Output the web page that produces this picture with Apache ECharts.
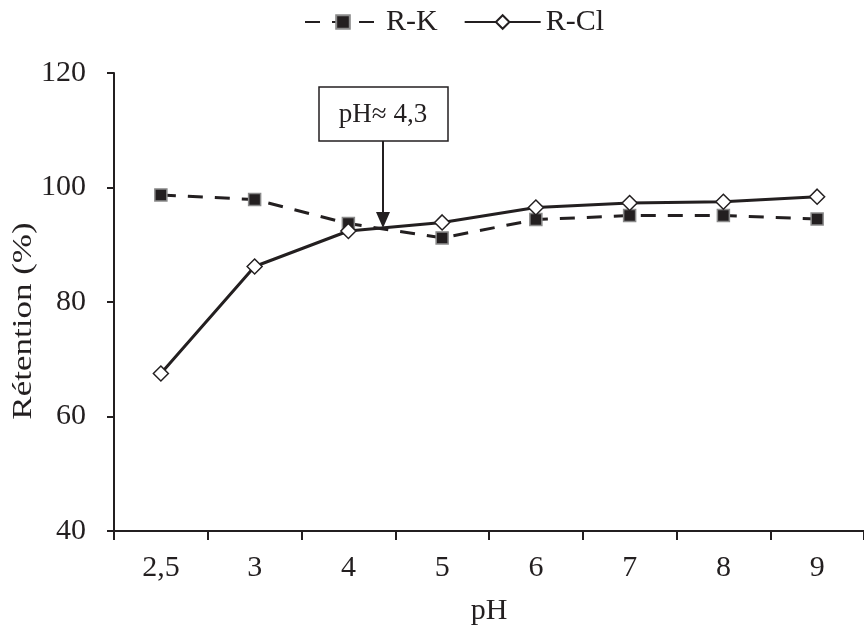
<!DOCTYPE html>
<html>
<head>
<meta charset="utf-8">
<script src="https://cdn.jsdelivr.net/npm/echarts@6/dist/echarts.min.js"></script>
<style>
  html, body { margin: 0; padding: 0; background: #fff; }
  #chart { width: 864px; height: 631px; }
</style>
</head>
<body>
<div id="chart"></div>
<script>
var phLabels = ['2,5', '3', '4', '5', '6', '7', '8', '9'];
var retentionK = [98.7, 97.9, 93.7, 91.2, 94.4, 95.1, 95.1, 94.5];
var retentionCl = [67.5, 86.2, 92.4, 93.9, 96.5, 97.3, 97.5, 98.4];
var yTicks = [40, 60, 80, 100, 120];

var ink = '#231f20';
var serif = '"Liberation Serif", "Times New Roman", serif';

var option = {
    animation: false,
    backgroundColor: '#fff',
    textStyle: { fontFamily: serif },
    legend: {
        top: 2,
        left: 299,
        itemWidth: 76,
        itemHeight: 17,
        itemGap: 26,
        textStyle: { fontFamily: serif, fontSize: 30, color: ink },
        data: ['R-K', 'R-Cl']
    },
    grid: { left: 114, right: -8, top: 73, bottom: 100 },
    xAxis: {
        type: 'category',
        data: phLabels,
        boundaryGap: true,
        name: 'pH',
        nameLocation: 'middle',
        nameGap: 65,
        nameTextStyle: { fontFamily: serif, fontSize: 30, color: ink },
        axisLine: { lineStyle: { color: ink, width: 2 } },
        axisTick: { show: true, length: 9, lineStyle: { color: ink, width: 2 } },
        axisLabel: { fontFamily: serif, fontSize: 30, color: ink, margin: 22 },
        splitLine: { show: false }
    },
    yAxis: {
        type: 'value',
        min: yTicks[0],
        max: yTicks[yTicks.length - 1],
        interval: 20,
        axisLine: { show: true, lineStyle: { color: ink, width: 2 } },
        axisTick: { show: true, length: 7, lineStyle: { color: ink, width: 2 } },
        axisLabel: { fontFamily: serif, fontSize: 30, color: ink, margin: 28 },
        splitLine: { show: false }
    },
    series: [
        {
            name: 'R-K',
            type: 'line',
            data: retentionK,
            symbol: 'rect',
            symbolSize: 12,
            itemStyle: { color: ink, borderColor: '#8a8a8a', borderWidth: 1.5 },
            lineStyle: { color: ink, width: 3, type: [15, 12] },
            z: 2
        },
        {
            name: 'R-Cl',
            type: 'line',
            data: retentionCl,
            symbol: 'diamond',
            symbolSize: 15,
            itemStyle: { color: '#fff', borderColor: ink, borderWidth: 1.5 },
            lineStyle: { color: ink, width: 3 },
            z: 3
        }
    ],
    graphic: [
        // y axis title, stretched along its length like the original
        {
            type: 'text',
            x: 24, y: 321,
            rotation: Math.PI / 2,
            scaleX: 1.25,
            style: {
                text: 'Rétention (%)',
                font: '28px ' + serif,
                fill: ink,
                align: 'center',
                verticalAlign: 'middle'
            }
        },
        // pH annotation box + arrow
        {
            type: 'rect',
            shape: { x: 319, y: 87, width: 129, height: 54 },
            style: { fill: '#fff', stroke: ink, lineWidth: 1.5 },
            z: 10
        },
        {
            type: 'text',
            x: 383, y: 115,
            style: {
                text: 'pH≈ 4,3',
                font: '27px ' + serif,
                fill: ink,
                align: 'center',
                verticalAlign: 'middle'
            },
            z: 11
        },
        {
            type: 'line',
            shape: { x1: 383, y1: 141, x2: 383, y2: 214 },
            style: { stroke: ink, lineWidth: 2 },
            z: 10
        },
        {
            type: 'polygon',
            shape: { points: [[376, 212], [390, 212], [383, 228]] },
            style: { fill: ink },
            z: 10
        }
    ]
};

var chart = echarts.init(document.getElementById('chart'));
chart.setOption(option);
</script>
</body>
</html>
